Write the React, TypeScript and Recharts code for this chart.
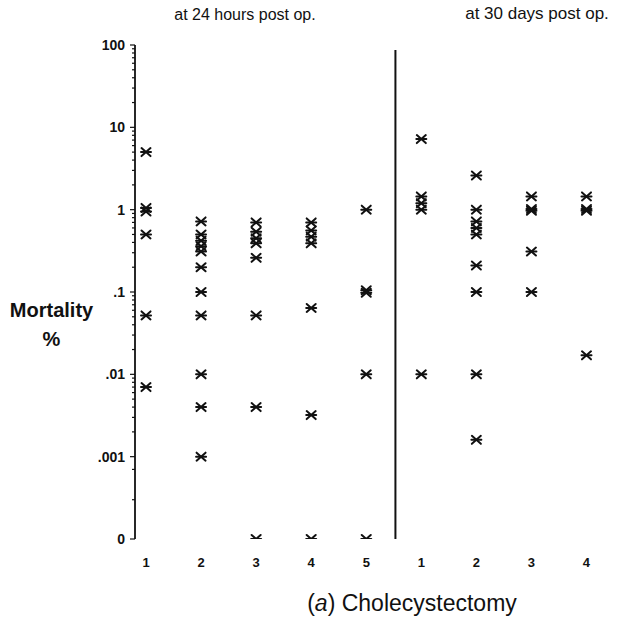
import React from 'react';
import { ScatterChart, Scatter, XAxis, YAxis, ReferenceLine } from 'recharts';

// column positions: 1-5 = 24 hours post op, 6-9 = 30 days post op
const xTickValues = [1, 2, 3, 4, 5, 6, 7, 8, 9];
const xTickLabels = ['1', '2', '3', '4', '5', '1', '2', '3', '4'];

// mortality % ("0" is plotted at 0.0001)
const h24Col1 = [5, 1.05, 0.95, 0.5, 0.052, 0.007];
const h24Col2 = [0.72, 0.5, 0.42, 0.36, 0.31, 0.2, 0.1, 0.052, 0.01, 0.004, 0.001];
const h24Col3 = [0.7, 0.54, 0.45, 0.39, 0.26, 0.052, 0.004, 0.0001];
const h24Col4 = [0.7, 0.56, 0.47, 0.39, 0.064, 0.0032, 0.0001];
const h24Col5 = [1.0, 0.105, 0.098, 0.01, 0.0001];
const d30Col1 = [7.2, 1.45, 1.2, 1.0, 0.01];
const d30Col2 = [2.6, 1.0, 0.72, 0.6, 0.5, 0.21, 0.1, 0.01, 0.0016];
const d30Col3 = [1.45, 1.02, 0.97, 0.31, 0.1];
const d30Col4 = [1.45, 1.02, 0.97, 0.017];

const majorTicks = [0.0001, 0.001, 0.01, 0.1, 1, 10, 100];
const majorLabels = ['0', '.001', '.01', '.1', '1', '10', '100'];
const minorTicks = [
  0.0003, 0.0007,
  0.002, 0.003, 0.004, 0.005, 0.006, 0.007, 0.008, 0.009,
  0.02, 0.03, 0.04, 0.05, 0.06, 0.07, 0.08, 0.09,
  0.2, 0.3, 0.4, 0.5, 0.6, 0.7, 0.8, 0.9,
  2, 3, 4, 5, 6, 7, 8, 9,
  20, 30, 40, 50, 60, 70, 80, 90,
];

const columns = [h24Col1, h24Col2, h24Col3, h24Col4, h24Col5, d30Col1, d30Col2, d30Col3, d30Col4];
const points = columns.flatMap((vals, i) => vals.map((v) => ({ x: xTickValues[i], y: v })));

const font = '"Liberation Sans", Arial, Helvetica, sans-serif';

const Asterisk = (props: any) => {
  const { cx, cy } = props;
  if (cx == null || cy == null) return null;
  return (
    <g stroke="#111" strokeWidth={2} strokeLinecap="round">
      <line x1={cx - 4.5} y1={cy - 4} x2={cx + 4.5} y2={cy + 4} />
      <line x1={cx - 4.5} y1={cy + 4} x2={cx + 4.5} y2={cy - 4} />
      <line x1={cx - 5} y1={cy} x2={cx + 5} y2={cy} />
    </g>
  );
};

const YTick = (props: any) => {
  const { x, y, payload } = props;
  const idx = majorTicks.indexOf(payload.value);
  const isMajor = idx >= 0;
  return (
    <g>
      <line x1={x - (isMajor ? 5 : 3)} y1={y} x2={x} y2={y} stroke="#111" strokeWidth={1.2} />
      {isMajor && (
        <text x={x - 10} y={y} dy="0.35em" textAnchor="end" fontFamily={font} fontWeight="bold" fontSize={14} fill="#111">
          {majorLabels[idx]}
        </text>
      )}
    </g>
  );
};

const XTick = (props: any) => {
  const { x, y, payload } = props;
  const idx = xTickValues.indexOf(payload.value);
  return (
    <text x={x} y={y + 15} dy="0.35em" textAnchor="middle" fontFamily={font} fontWeight="bold" fontSize={13} fill="#111">
      {xTickLabels[idx]}
    </text>
  );
};

export default function App() {
  return (
    <div style={{ position: 'absolute', left: 0, top: 0, width: 630, height: 633, background: '#fff', fontFamily: font, color: '#111' }}>
      <div style={{ position: 'absolute', left: 45, top: 6, width: 400, textAlign: 'center', fontSize: 16 }}>at 24 hours post op.</div>
      <div style={{ position: 'absolute', left: 437, top: 4, width: 200, textAlign: 'center', fontSize: 17 }}>at 30 days post op.</div>
      <div style={{ position: 'absolute', left: 0, top: 296, width: 103, textAlign: 'center', fontSize: 20, fontWeight: 'bold', lineHeight: '29px' }}>
        Mortality
        <br />%
      </div>
      <div style={{ position: 'absolute', left: 200, top: 590, width: 424, textAlign: 'center', fontSize: 23 }}>
        (<i>a</i>) Cholecystectomy
      </div>
      <div style={{ position: 'absolute', left: 0, top: 0 }}>
        <ScatterChart width={630} height={633} margin={{ top: 45, right: 27, bottom: 64, left: 0 }}>
          <XAxis
            type="number"
            dataKey="x"
            domain={[0.8, 9.3]}
            ticks={xTickValues}
            tick={<XTick />}
            axisLine={false}
            tickLine={false}
            height={30}
            allowDataOverflow
          />
          <YAxis
            type="number"
            dataKey="y"
            scale="log"
            domain={[0.0001, 100]}
            ticks={[...majorTicks, ...minorTicks]}
            tick={<YTick />}
            tickSize={0}
            tickMargin={0}
            tickLine={false}
            axisLine={{ stroke: '#111', strokeWidth: 1.8 }}
            width={135}
            interval={0}
            allowDataOverflow
          />
          <ReferenceLine
            segment={[{ x: 5.53, y: 87 }, { x: 5.53, y: 0.0001 }]}
            stroke="#111"
            strokeWidth={2}
          />
          <Scatter data={points} shape={<Asterisk />} isAnimationActive={false} />
        </ScatterChart>
      </div>
    </div>
  );
}
